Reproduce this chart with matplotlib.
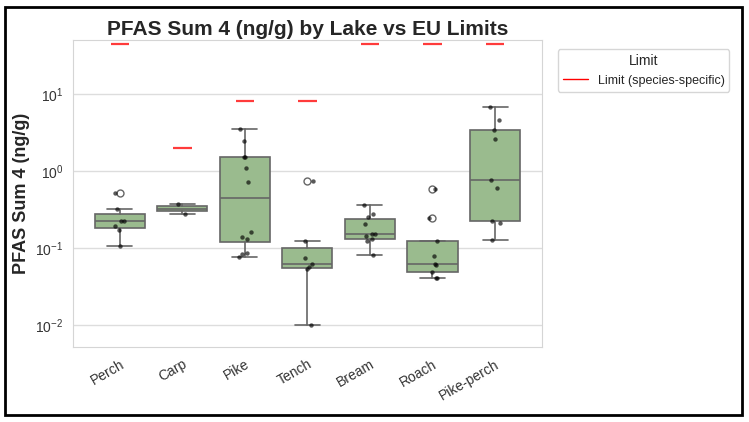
import matplotlib
matplotlib.use('Agg')
import matplotlib.pyplot as plt
import seaborn as sns
import numpy as np
from matplotlib.lines import Line2D
from matplotlib.patches import Rectangle

# species (lakes' fish) and PFAS sum 4 values
species = ['Perch', 'Carp', 'Pike', 'Tench', 'Bream', 'Roach', 'Pike-perch']
perch = [0.52, 0.323, 0.223, 0.223, 0.192, 0.172, 0.106]
carp = [0.375, 0.275]
pike = [3.52, 2.46, 1.51, 1.54, 1.08, 0.719, 0.160, 0.140, 0.131, 0.0863, 0.0838, 0.0766]
tench = [0.748, 0.1225, 0.075, 0.062, 0.0573, 0.054, 0.01]
bream = [0.357, 0.273, 0.252, 0.202, 0.153, 0.153, 0.141, 0.130, 0.1225, 0.082]
roach = [0.583, 0.242, 0.1225, 0.0797, 0.062, 0.0608, 0.0483, 0.0404, 0.0404]
pike_perch = [6.82, 4.57, 3.45, 2.61, 0.756, 0.601, 0.223, 0.214, 0.126]
values = [perch, carp, pike, tench, bream, roach, pike_perch]

# EU limits per species (ng/g)
limits = [45, 2, 8, 8, 45, 45, 45]

sns.set_style('whitegrid')
plt.rcParams['font.family'] = ['Liberation Sans', 'DejaVu Sans']
plt.rcParams['mathtext.fontset'] = 'custom'
plt.rcParams['mathtext.rm'] = 'Liberation Sans'
plt.rcParams['mathtext.it'] = 'Liberation Sans:italic'

fig = plt.figure(figsize=(7.49, 4.22), dpi=100)
ax = fig.add_axes([0.0975, 0.178, 0.626, 0.727])

pos = np.arange(len(species))
edge = '#666666'
ax.boxplot(values, positions=pos, widths=0.8, patch_artist=True,
           boxprops=dict(facecolor='#9abb8e', edgecolor=edge, linewidth=1.2),
           medianprops=dict(color=edge, linewidth=1.2),
           whiskerprops=dict(color=edge, linewidth=1.2),
           capprops=dict(color=edge, linewidth=1.2),
           capwidths=0.4,
           flierprops=dict(marker='o', markerfacecolor='none', markeredgecolor=edge,
                           markersize=5, markeredgewidth=1.0),
           zorder=2)

# jittered points
rng = np.random.default_rng(3)
for i, v in enumerate(values):
    xs = i + rng.uniform(-0.1, 0.1, len(v))
    ax.scatter(xs, v, s=10, color='black', alpha=0.65, linewidths=0, zorder=3)

# species-specific limit marks
ax.hlines(limits, pos - 0.15, pos + 0.15, color='#ff3b3b', linewidth=1.6, zorder=4)

ax.set_yscale('log')
ax.set_xlim(-0.75, 6.75)
ax.set_ylim(0.0052, 50)
ax.set_xticks(pos)
ax.set_xticklabels(species, rotation=30, ha='right', rotation_mode='anchor', fontsize=10)
ax.tick_params(axis='y', labelsize=10, labelcolor='#333333')
ax.tick_params(axis='x', pad=4, labelcolor='#333333')
ax.grid(axis='x', visible=False)
ax.grid(axis='y', which='major', color='#dddddd', linewidth=1.0)
ax.grid(axis='y', which='minor', visible=False)
for s in ax.spines.values():
    s.set_color('#d5d5d5')

ax.set_ylabel('PFAS Sum 4 (ng/g)', fontsize=13, fontweight='bold')
ax.set_title('PFAS Sum 4 (ng/g) by Lake vs EU Limits', fontsize=15, fontweight='bold', pad=4)

handle = Line2D([0], [0], color='red', linewidth=1.0)
ax.legend([handle], ['Limit (species-specific)'], title='Limit', loc='upper left',
          bbox_to_anchor=(1.02, 0.99), fontsize=9, title_fontsize=10, frameon=True)

# border around the figure
fig.patches.append(Rectangle((0.007, 0.017), 0.983, 0.967, transform=fig.transFigure,
                             fill=False, edgecolor='black', linewidth=2))

fig.savefig('out.png', dpi=100)
